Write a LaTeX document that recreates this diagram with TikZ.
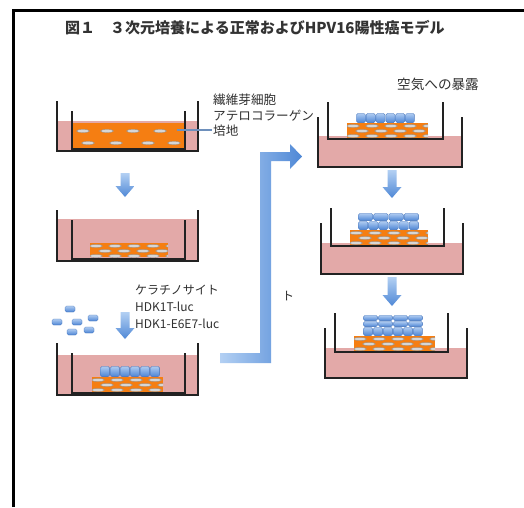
\documentclass[tikz,border=0pt]{standalone}
\usepackage{fontspec}
\newfontfamily\jp{Noto Sans CJK JP}
\definecolor{mediumpink}{HTML}{E3A9A8}
\definecolor{gelorange}{HTML}{F57E12}
\definecolor{fibfill}{HTML}{D6D6D6}
\definecolor{fibedge}{HTML}{8A8A8A}
\definecolor{cellT}{HTML}{AECBF1}
\definecolor{cellB}{HTML}{4C84D4}
\definecolor{cellE}{HTML}{3F70B9}
\definecolor{arrL}{HTML}{B3D0F3}
\definecolor{arrR}{HTML}{4F88D6}
\definecolor{labeltext}{HTML}{303030}
\definecolor{leader}{HTML}{6E90BC}
\definecolor{wallc}{HTML}{222222}

% collagen gel with embedded fibroblasts (three staggered rows)
\newcommand{\gelbox}[4]{%
  \fill[gelorange] (#1,#2) rectangle (#3,#4);
  \begin{scope}
    \clip (#1,#2) rectangle (#3,#4);
    \foreach \r in {0,1,2}{\foreach \c in {0,...,6}{
      \filldraw[fill=fibfill, draw=fibedge, line width=0.3pt]
        ({#1+6+\c*19+mod(\r,2)*9},{#2+3+\r*5}) ellipse (6.5 and 1.5);}}
  \end{scope}}

% one row of keratinocytes: x1, x2, ytop, ybottom, count
\newcommand{\cellrow}[5]{%
  \foreach \c in {1,...,#5}{
    \shade[top color=cellT, bottom color=cellB, draw=cellE, line width=0.3pt, rounded corners=1.5pt]
      ({#1+(\c-1)*(#2-#1)/#5+0.4},{#3+0.4}) rectangle ({#1+\c*(#2-#1)/#5-0.4},{#4-0.4});}}

% culture dish: outer left, outer right, outer top, outer bottom
\newcommand{\outerdish}[4]{%
  \draw[wallc, line width=1.3pt] (#1,#3) -- (#1,#4) -- (#2,#4) -- (#2,#3);}
% cell-culture insert: left, right, top, bottom
\newcommand{\cultureinsert}[4]{%
  \draw[wallc, line width=1.3pt] (#1,#3) -- (#1,#4) -- (#2,#4) -- (#2,#3);}

% blue block arrow pointing down: x, ytop, ybottom
\newcommand{\blockdown}[3]{%
  \shade[top color=arrL, bottom color=arrR]
    ({#1-4.5},#2) -- ({#1+4.5},#2) -- ({#1+4.5},{#3-11}) -- ({#1+9.5},{#3-11})
    -- (#1,#3) -- ({#1-9.5},{#3-11}) -- ({#1-4.5},{#3-11}) -- cycle;}

\begin{document}
\begin{tikzpicture}[x=1pt,y=-1pt,
  label/.style={font=\jp\fontsize{12}{12}\selectfont, text=labeltext, inner sep=0pt, anchor=west},
  biglabel/.style={label, font=\jp\fontsize{12.6}{12.6}\selectfont},
  titletext/.style={font=\jp\bfseries\fontsize{15}{15}\selectfont, text=black!80, inner sep=0pt, anchor=west}]
\useasboundingbox (0,0) rectangle (524,507);
\fill[white] (0,0) rectangle (524,507);

% frame
\draw[line width=2.2pt] (13.5,507) -- (13.5,10.5) -- (524,10.5);

% title
\node[titletext] (title) at (65,28) {図１　３次元培養による正常およびHPV16陽性癌モデル};

% ---- left column ----
% dish 1: fibroblasts in atelocollagen
\fill[mediumpink] (57,121) rectangle (198,151);
\fill[gelorange] (72,123) rectangle (185,149);
\foreach \x in {83,107,133,160}{\filldraw[fill=fibfill, draw=fibedge, line width=0.3pt] (\x,131) ellipse (6.5 and 1.6);}
\foreach \x in {88,116,148,174}{\filldraw[fill=fibfill, draw=fibedge, line width=0.3pt] (\x,143) ellipse (6.5 and 1.6);}
\outerdish{57}{198}{101}{151}
\cultureinsert{72}{185}{111}{149}
\coordinate (gelpt) at (177,130);
\coordinate (medlab) at (212,130);
\draw[leader, line width=1.2pt] (gelpt) -- (medlab);
\node[biglabel] (fib) at (213,100) {繊維芽細胞};
\node[biglabel] (atelo) at (213,116) {アテロコラーゲン};
\node[biglabel] (med) at (213,131) {培地};

\blockdown{125}{173}{197}

% dish 2: contracted gel
\fill[mediumpink] (57,219) rectangle (198,261);
\gelbox{90}{243}{168}{257}
\outerdish{57}{198}{210}{261}
\cultureinsert{72}{185}{220}{259}

% keratinocytes being seeded
\foreach \px/\py in {70/309,57/322,77/322,93/318,72/332,89/330}{
  \shade[top color=cellT, bottom color=cellB, draw=cellE, line width=0.3pt, rounded corners=1.5pt]
    ({\px-5},{\py-3}) rectangle ({\px+5},{\py+3});}
\node[label] (kera) at (135,290) {ケラチノサイト};
\node[label] (hdk1t) at (135,307) {HDK1T-luc};
\node[label] (hdk1e) at (135,324) {HDK1-E6E7-luc};
\blockdown{125}{312}{339}

% dish 3: keratinocytes on the gel
\fill[mediumpink] (57,355) rectangle (198,395);
\gelbox{92}{377}{163}{392}
\cellrow{100}{160}{366}{377}{6}
\outerdish{57}{198}{343}{395}
\cultureinsert{72}{185}{353}{393}

% transfer arrow to air exposure
\shade[left color=arrL, right color=arrR]
  (220,353) -- (260,353) -- (260,152) -- (290,152) -- (290,144) -- (302,156.5)
  -- (290,169) -- (290,161) -- (271,161) -- (271,363) -- (220,363) -- cycle;
\node[label] (to) at (282,296) {ト};

% ---- right column: air-liquid interface ----
\node[label, font=\jp\fontsize{13.6}{13.6}\selectfont] (air) at (397,84) {空気への暴露};

% dish R1
\fill[mediumpink] (318,136) rectangle (462,167);
\gelbox{347}{123}{428}{139}
\cellrow{356}{415}{113}{123}{6}
\outerdish{318}{462}{117}{167}
\cultureinsert{328}{443}{102}{139}

\blockdown{392}{170}{198}

% dish R2
\fill[mediumpink] (321,243) rectangle (463,274);
\gelbox{350}{230}{428}{246}
\cellrow{358}{419}{213}{221}{4}
\cellrow{358}{419}{221}{230}{6}
\outerdish{321}{463}{223}{274}
\cultureinsert{331}{444}{208}{246}

\blockdown{392}{277}{306}

% dish R3
\fill[mediumpink] (325,348) rectangle (467,378);
\gelbox{354}{336}{435}{352}
\cellrow{363}{423}{315}{321}{4}
\cellrow{363}{423}{321}{327}{4}
\cellrow{363}{423}{327}{336}{6}
\outerdish{325}{467}{328}{378}
\cultureinsert{335}{448}{313}{352}
\end{tikzpicture}
\end{document}
